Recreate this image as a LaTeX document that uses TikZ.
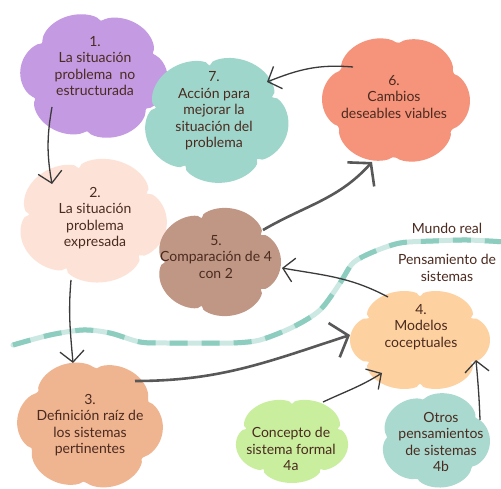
\documentclass[tikz,border=0pt]{standalone}
\usepackage{fontspec}
\setmainfont{Lato}
\usetikzlibrary{arrows.meta,calc}
\definecolor{cpurple}{HTML}{C49BE3}
\definecolor{cteal}{HTML}{9FD6CB}
\definecolor{csalmon}{HTML}{F5937B}
\definecolor{cpeachl}{HTML}{FDE3D7}
\definecolor{cbrown}{HTML}{C09785}
\definecolor{cpeach}{HTML}{EFB490}
\definecolor{corange}{HTML}{FDD1A0}
\definecolor{cgreen}{HTML}{C8EE9E}
\definecolor{ctealb}{HTML}{A9D9CF}
\definecolor{txt}{HTML}{4B2A1F}
\definecolor{arrc}{HTML}{3A3A3A}
\definecolor{wavel}{HTML}{CBE8E2}
\definecolor{waved}{HTML}{8DCDC0}
\newcommand\blob[7]{\fill[#7] plot[smooth cycle, domain=0:357, samples=120]
  ({#1+#3*(0.84+0.16*sqrt(abs(cos((#5*\x+#6)/2))))*cos(\x)}, {#2+#4*(0.84+0.16*sqrt(abs(cos((#5*\x+#6)/2))))*sin(\x)});}
\tikzset{
  lbl/.style={align=center, font=\fontsize{14}{16.5}\selectfont, text=txt, inner sep=0pt},
  arr/.style={draw=arrc, line width=1.3pt, -{Straight Barb[length=11pt,width=24pt]}},
  arrthick/.style={draw=arrc!85!white, line width=2.6pt, -{Straight Barb[length=15pt,width=36pt]}}
}
\begin{document}
\begin{tikzpicture}[x=1pt,y=1pt]
\clip (0,0) rectangle (501,-489);
\fill[white] (0,0) rectangle (501,-489);
% wavy boundary
\draw[wavel, line width=5pt, line cap=round] plot[smooth] coordinates {(13,-345) (50,-335) (83,-330) (110,-333) (140,-342) (167,-343) (207,-343) (233,-343) (260,-340) (293,-327) (320,-310) (340,-283) (353,-263) (373,-252) (400,-243) (433,-241) (467,-240) (505,-242)};
\draw[waved, line width=5pt, dash pattern=on 18pt off 14pt] plot[smooth] coordinates {(13,-345) (50,-335) (83,-330) (110,-333) (140,-342) (167,-343) (207,-343) (233,-343) (260,-340) (293,-327) (320,-310) (340,-283) (353,-263) (373,-252) (400,-243) (433,-241) (467,-240) (505,-242)};
% clouds
\blob{94}{-76}{74}{64}{6}{40}{cpurple}
\blob{216}{-119}{73}{64}{5}{60}{cteal}
\blob{396}{-100}{74}{65}{6}{10}{csalmon}
\blob{92}{-220}{75}{63}{5}{30}{cpeachl}
\blob{218}{-262}{63}{55}{5}{0}{cbrown}
\blob{90}{-425}{73}{65}{6}{30}{cpeach}
\blob{435}{-440}{55}{48}{5}{20}{ctealb}
\blob{420}{-340}{70}{52}{6}{0}{corange}
\blob{292}{-440}{57}{43}{5}{90}{cgreen}
% labels
\node[lbl] (n1) at (95,-66) {1.\\La situación\\problema \ no\\estructurada};
\node[lbl] (n7) at (214,-111) {7.\\Acción para\\mejorar la\\situación del\\problema};
\node[lbl] (n6) at (394,-97) {6.\\Cambios\\deseables viables};
\node[lbl] (n2) at (95,-218) {2.\\La situación\\problema\\expresada};
\node[lbl] (n5) at (216,-257) {5.\\Comparación de 4\\con 2};
\node[lbl] (n3) at (90,-425) {3.\\Definición raíz de\\los sistemas\\pertinentes};
\node[lbl] (n4) at (421,-327) {4.\\Modelos\\coceptuales};
\node[lbl] (n4a) at (291,-449) {Concepto de\\sistema formal\\4a};
\node[lbl] (n4b) at (441,-442) {Otros\\pensamientos\\de sistemas\\4b};
\node[lbl] (mr) at (447,-228) {Mundo real};
\node[lbl] (ps) at (447,-268) {Pensamiento de\\sistemas};
% connectors
\draw[arr] ($(n1)+(-43,-41)$) to[out=-100,in=100] ($(n2)+(-43,34)$);
\draw[arr] ($(n2)+(-24,-62)$) to[out=-95,in=95] ($(n3)+(-17,62)$);
\draw[arrthick] ($(n3)+(45,44)$) to[out=0,in=198] ($(n4)+(-71,-8)$);
\draw[arrthick] ($(n5)+(47,27)$) to[out=30,in=228] ($(n6)+(-22,-65)$);
\draw[arr] ($(n6)+(-41,30)$) to[out=175,in=22] ($(n7)+(53,29)$);
\draw[arr] ($(n4)+(-33,30)$) to[out=152,in=-10] ($(n5)+(66,-11)$);
\draw[arr] ($(n4a)+(32,47)$) to[out=25,in=212] ($(n4)+(-39,-46)$);
\draw[arr] ($(n4b)+(39,22)$) to[out=92,in=-85] ($(n4)+(55,-33)$);
\end{tikzpicture}
\end{document}
